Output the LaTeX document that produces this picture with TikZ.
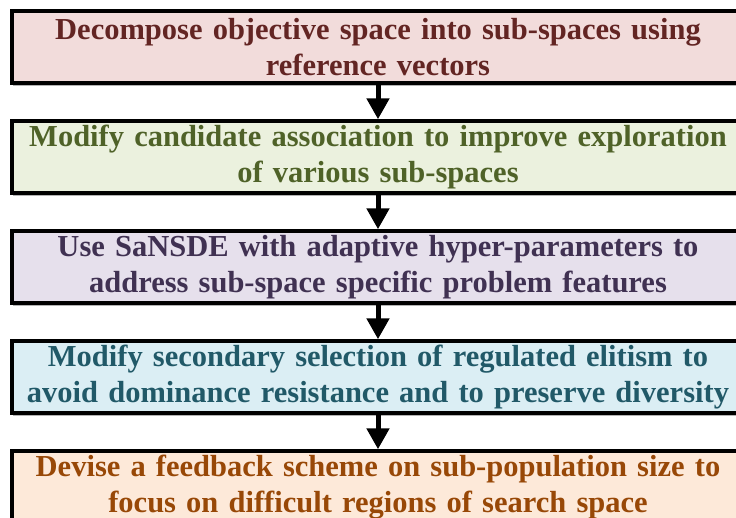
\documentclass[tikz,border=0pt]{standalone}
\usepackage{fontspec}
\setmainfont{Liberation Serif}
\usetikzlibrary{positioning, arrows.meta, shadows}
\definecolor{decfill}{HTML}{F2DCDB}
\definecolor{dectext}{HTML}{632523}
\definecolor{modfill}{HTML}{EBF1DE}
\definecolor{modtext}{HTML}{4F6228}
\definecolor{usefill}{HTML}{E6E0EC}
\definecolor{usetext}{HTML}{403152}
\definecolor{selfill}{HTML}{DBEEF4}
\definecolor{seltext}{HTML}{215968}
\definecolor{devfill}{HTML}{FDE9D9}
\definecolor{devtext}{HTML}{984807}

\begin{document}
\begin{tikzpicture}[x=1pt, y=1pt, node distance=34.5pt,
stepbox/.style = {shape=rectangle, draw, line width=3.5pt,
    text width=718pt, inner xsep=7pt, inner ysep=1pt, minimum height=72pt, align=center,
    font=\fontsize{30.5}{35.5}\selectfont\bfseries,
    drop shadow={shadow xshift=1pt, shadow yshift=-3pt, opacity=0.6}},
flow/.style = {line width=5pt, -{Triangle[width=22pt, length=21pt]}}]
\useasboundingbox (0,0) rectangle (736,-517);
\clip (0,0) rectangle (736,-517);
\node [stepbox, fill=decfill, text=dectext] (decomp) at (378,-47)
  {Decompose objective space into sub-spaces using\\ reference vectors};
\node [stepbox, fill=modfill, text=modtext, below=of decomp] (assoc)
  {Modify candidate association to improve exploration\\ of various sub-spaces};
\node [stepbox, fill=usefill, text=usetext, below=of assoc] (sansde)
  {Use SaNSDE with adaptive hyper-parameters to\\ address sub-space specific problem features};
\node [stepbox, fill=selfill, text=seltext, below=of sansde] (elitism)
  {Modify secondary selection of regulated elitism to\\ avoid dominance resistance and to preserve diversity};
\node [stepbox, fill=devfill, text=devtext, below=of elitism] (feedback)
  {Devise a feedback scheme on sub-population size to\\ focus on difficult regions of search space};
% arrows between steps
\draw [flow] (decomp) -- (assoc);
\draw [flow] (assoc) -- (sansde);
\draw [flow] (sansde) -- (elitism);
\draw [flow] (elitism) -- (feedback);
\end{tikzpicture}
\end{document}
